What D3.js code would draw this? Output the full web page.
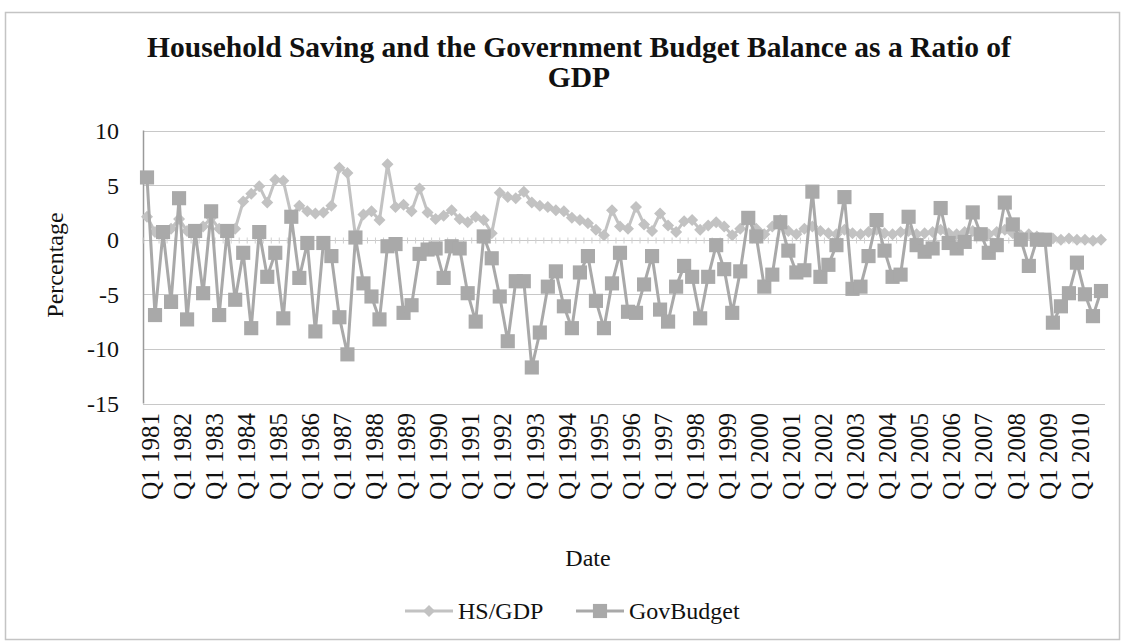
<!DOCTYPE html>
<html>
<head>
    <meta charset="utf-8">
    <title>Household Saving and the Government Budget Balance</title>
    <script src="https://d3js.org/d3.v7.min.js"></script>
    <style>
        body { margin: 0; background: #fff; }
        svg { font-family: "Liberation Serif", "Times New Roman", serif; }
        .grid line { stroke: #c8c8c8; stroke-width: 1px; }
        .tick-label { font-size: 25px; fill: #111; }
    </style>
</head>
<body>
<svg width="1125" height="643"></svg>
<script>
    // quarters 1981 Q1 .. 2010 Q4
    var years = d3.range(1981, 2011);
    var quarterNames = ["Q1", "Q2", "Q3", "Q4"];
    var categories = [];
    years.forEach(function (y) {
        quarterNames.forEach(function (q) { categories.push(q + " " + y); });
    });

    var yTicks = [10, 5, 0, -5, -10, -15];

    // household saving / GDP (%)
    var hsGdp = [
        2.1, 0.7, 0.6, 1.0, 1.9, 0.8, 0.6, 1.2, 2.0, 1.0, 0.8, 1.0,
        3.5, 4.2, 4.9, 3.4, 5.5, 5.4, 2.2, 3.1, 2.6, 2.4, 2.5, 3.1, 6.6, 6.1, 0.3, 2.3, 2.6, 1.8,
        6.9, 3.0, 3.2, 2.6, 4.7, 2.5, 1.9, 2.2, 2.7, 1.9, 1.6, 2.1, 1.8, 0.6,
        4.3, 3.9, 3.8, 4.4, 3.4, 3.1, 3.0, 2.7, 2.6, 2.0, 1.8, 1.5, 0.9, 0.4,
        2.7, 1.2, 1.0, 3.0, 1.4, 0.8, 2.4, 1.3, 0.7, 1.7, 1.8, 0.9, 1.3, 1.6, 1.2, 0.4,
        1.0, 2.0, 1.0, 0.5, 1.2, 1.8, 0.8, 0.5, 1.0, 1.2, 0.8, 0.6, 0.5, 0.9, 0.6, 0.5,
        0.7, 0.9, 0.6, 0.5, 0.7, 0.8, 0.5, 0.6, 0.7, 0.9, 0.6, 0.5, 0.7, 0.8, 0.6, 0.5,
        0.7, 0.9, 0.6, 0.4, 0.5, 0.3,
        0.1, 0.1, 0.0, 0.1, 0.0, 0.0, -0.1, 0.0
    ];

    // government budget balance / GDP (%)
    var govBudget = [
        5.7, -6.9, 0.7, -5.7, 3.8, -7.3, 0.8, -4.9, 2.6, -6.9, 0.8, -5.5,
        -1.2, -8.1, 0.7, -3.4, -1.2, -7.2, 2.1, -3.5, -0.3, -8.4, -0.3, -1.5, -7.1, -10.5, 0.2, -4.0, -5.2, -7.3,
        -0.6, -0.4, -6.7, -6.0, -1.3, -0.9, -0.8, -3.5, -0.6, -0.8, -4.9, -7.5, 0.3, -1.7,
        -5.2, -9.3, -3.8, -3.8, -11.7, -8.5, -4.3, -2.9, -6.1, -8.1, -3.0, -1.5, -5.6, -8.1,
        -4.0, -1.2, -6.6, -6.7, -4.1, -1.5, -6.4, -7.5, -4.3, -2.4, -3.4, -7.2, -3.4, -0.5, -2.7, -6.7,
        -2.9, 2.0, 0.3, -4.3, -3.2, 1.6, -1.0, -3.0, -2.8, 4.4, -3.4, -2.3, -0.5, 3.9, -4.5, -4.3,
        -1.5, 1.8, -1.0, -3.4, -3.2, 2.1, -0.5, -1.1, -0.8, 2.9, -0.3, -0.8, -0.2, 2.5, 0.5, -1.2,
        -0.5, 3.4, 1.4, 0.0, -2.4, 0.0,
        0.0, -7.6, -6.1, -4.9, -2.1, -5.0, -7.0, -4.7
    ];

    var series = [
        { name: "HS/GDP", values: hsGdp, color: "#c2c2c2", size: 72, rot: 45 },
        { name: "GovBudget", values: govBudget, color: "#a9a9a9", size: 200, rot: 0 }
    ];

    var svg = d3.select("svg");
    var plotLeft = 143, plotRight = 1105, plotTop = 130.5, plotBottom = 403.5;

    // chart border
    svg.append("rect")
        .attr("x", 5.5).attr("y", 12.5)
        .attr("width", 1114).attr("height", 627)
        .attr("fill", "none").attr("stroke", "#c4c4c4").attr("stroke-width", 1.5);

    var x = d3.scaleBand().domain(categories).range([plotLeft, plotRight]);
    var y = d3.scaleLinear().domain([-15, 10]).range([plotBottom, plotTop]);
    var cx = function (i) { return x(categories[i]) + x.bandwidth() / 2; };

    // horizontal gridlines
    svg.append("g").attr("class", "grid")
        .selectAll("line").data(yTicks).enter().append("line")
        .attr("x1", plotLeft).attr("x2", plotRight)
        .attr("y1", function (d) { return Math.round(y(d)) + 0.5; })
        .attr("y2", function (d) { return Math.round(y(d)) + 0.5; });

    // value axis
    svg.append("line")
        .attr("x1", plotLeft + 0.5).attr("x2", plotLeft + 0.5)
        .attr("y1", plotTop).attr("y2", plotBottom)
        .attr("stroke", "#9a9a9a").attr("stroke-width", 1.5);

    svg.append("g").selectAll("text").data(yTicks).enter().append("text")
        .attr("class", "tick-label")
        .attr("x", 119).attr("y", function (d) { return y(d); })
        .attr("dy", "0.35em").attr("text-anchor", "end")
        .style("font-size", "24px")
        .text(function (d) { return d; });

    // category axis at zero with small ticks
    var zeroY = Math.round(y(0)) + 0.5;
    svg.append("g").selectAll("line").data(categories).enter().append("line")
        .attr("x1", function (d) { return x(d); })
        .attr("x2", function (d) { return x(d); })
        .attr("y1", zeroY - 3).attr("y2", zeroY + 3)
        .attr("stroke", "#d0d0d0");

    // category labels (Q1 only), placed low
    svg.append("g").selectAll("text")
        .data(categories.filter(function (d) { return d.indexOf("Q1") === 0; }))
        .enter().append("text")
        .attr("class", "tick-label")
        .attr("transform", function (d) {
            return "translate(" + (x(d) + x.bandwidth() / 2 + 3) + ",413) rotate(-90)";
        })
        .attr("dy", "0.35em")
        .attr("text-anchor", "end")
        .text(function (d) { return d; });

    function marker(s) {
        return d3.symbol().type(d3.symbolSquare).size(s.size)();
    }

    // series lines and markers
    series.forEach(function (s) {
        var line = d3.line()
            .x(function (d, i) { return cx(i); })
            .y(function (d) { return y(d); });
        var g = svg.append("g");
        g.append("path")
            .datum(s.values)
            .attr("d", line)
            .attr("fill", "none")
            .attr("stroke", s.color)
            .attr("stroke-width", 3)
            .attr("stroke-linejoin", "round");
        g.selectAll("path.m").data(s.values).enter().append("path")
            .attr("class", "m")
            .attr("d", marker(s))
            .attr("transform", function (d, i) {
                return "translate(" + cx(i) + "," + y(d) + ") rotate(" + s.rot + ")";
            })
            .attr("fill", s.color);
    });

    // title
    var title = svg.append("text")
        .attr("text-anchor", "middle")
        .style("font-size", "29.5px").style("font-weight", "bold").attr("fill", "#111");
    title.append("tspan").attr("x", 579).attr("y", 57)
        .text("Household Saving and the Government Budget Balance as a Ratio of");
    title.append("tspan").attr("x", 579).attr("y", 87).text("GDP");

    // axis titles
    svg.append("text")
        .attr("transform", "translate(63,265) rotate(-90)")
        .attr("text-anchor", "middle").style("font-size", "24px").attr("fill", "#111")
        .text("Percentage");
    svg.append("text")
        .attr("x", 588).attr("y", 566).attr("text-anchor", "middle")
        .style("font-size", "24px").attr("fill", "#111")
        .text("Date");

    // legend
    var legendX = [405, 576];
    series.forEach(function (s, k) {
        var lg = svg.append("g").attr("transform", "translate(" + legendX[k] + ",611)");
        lg.append("line").attr("x1", 0).attr("x2", 48).attr("y1", 0).attr("y2", 0)
            .attr("stroke", s.color).attr("stroke-width", 3);
        lg.append("path").attr("d", marker(s))
            .attr("transform", "translate(24,0) rotate(" + s.rot + ")").attr("fill", s.color);
        lg.append("text").attr("x", 53).attr("dy", "0.35em")
            .style("font-size", "24px").attr("fill", "#111")
            .text(s.name);
    });
</script>
</body>
</html>
